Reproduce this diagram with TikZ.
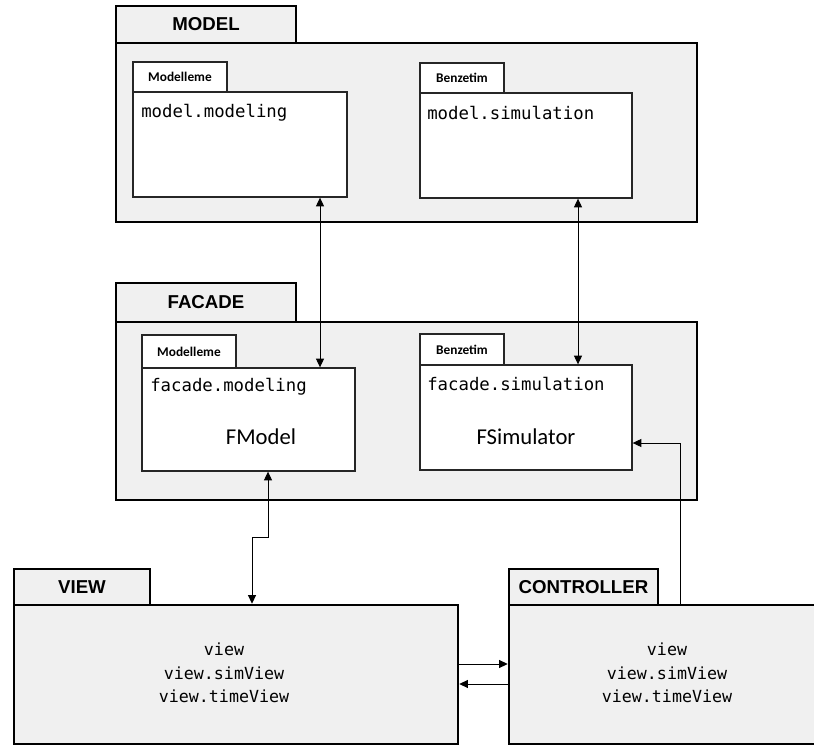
\documentclass[tikz,border=0pt]{standalone}
\usepackage{fontspec}
\setmainfont{Liberation Sans}
\setmonofont{DejaVu Sans Mono}
\newfontfamily\calfont{Carlito}
\usetikzlibrary{fit,arrows.meta}
\definecolor{pkggray}{RGB}{240,240,240}

\begin{document}
\begin{tikzpicture}[x=0.75pt,y=-0.75pt,
  pkg/.style={draw, line width=1.9pt, fill=pkggray, inner sep=0pt},
  pkgname/.style={font=\bfseries\fontsize{14}{16}\selectfont},
  sub/.style={draw=black!85, line width=1pt, fill=white, inner sep=0pt},
  subname/.style={font=\calfont\bfseries\fontsize{10}{12}\selectfont},
  code/.style={anchor=west, inner sep=0pt, font=\ttfamily\fontsize{13}{15}\selectfont},
  cls/.style={font=\calfont\fontsize{17}{20}\selectfont},
  listing/.style={align=center, font=\ttfamily\fontsize{12.5}{17.6}\selectfont},
  link/.style={line width=0.7pt, -{Triangle[length=6.5pt,width=6pt]}},
  bilink/.style={line width=0.7pt, {Triangle[length=6.5pt,width=6pt]}-{Triangle[length=6.5pt,width=6pt]}}]
\clip (0,0) rectangle (814,745);

% MODEL package
\node[pkg, fit={(116,6) (296,43)}] (modeltab) {};
\node[pkgname] (modellbl) at (modeltab.center) {MODEL};
\node[pkg, fit={(116,43) (697,222)}] (model) {};
\node[sub, fit={(133,62) (227,92)}] (mmtab) {};
\node[subname] (mmtablbl) at (mmtab.center) {Modelleme};
\node[sub, fit={(133,92) (347,197)}] (mm) {};
\node[code] (mmtxt) at (141,113) {model.modeling};
\node[sub, fit={(420,63) (504,93)}] (mstab) {};
\node[subname] (mstablbl) at (mstab.center) {Benzetim};
\node[sub, fit={(420,93) (632,198)}] (ms) {};
\node[code] (mstxt) at (427,113) {model.simulation};

% FACADE package
\node[pkg, fit={(116,283) (296,322)}] (facadetab) {};
\node[pkgname] (facadelbl) at (facadetab.center) {FACADE};
\node[pkg, fit={(116,322) (697,500)}] (facade) {};
\node[sub, fit={(142,335) (236,368)}] (fmtab) {};
\node[subname] (fmtablbl) at (fmtab.center) {Modelleme};
\node[sub, fit={(142,368) (355,471)}] (fm) {};
\node[code] (fmtxt) at (150,387) {facade.modeling};
\node[cls] (fmcls) at (261,437) {FModel};
\node[sub, fit={(420,334) (504,365)}] (fstab) {};
\node[subname] (fstablbl) at (fstab.center) {Benzetim};
\node[sub, fit={(420,365) (632,470)}] (fs) {};
\node[code] (fstxt) at (427,384) {facade.simulation};
\node[cls] (fscls) at (526,437) {FSimulator};

% VIEW package
\node[pkg, fit={(14,569) (150,605)}] (viewtab) {};
\node[pkgname] (viewlbl) at (viewtab.center) {VIEW};
\node[pkg, fit={(14,605) (458,744)}] (view) {};
\node[listing] (viewtxt) at (224,673) {view\\view.simView\\view.timeView};

% CONTROLLER package (runs past the right edge)
\node[pkg, fit={(509,569) (658,605)}] (ctrltab) {};
\node[pkgname] (ctrllbl) at (ctrltab.center) {CONTROLLER};
\node[pkg, fit={(509,605) (830,744)}] (ctrl) {};
\node[listing] (ctrltxt) at (667,673) {view\\view.simView\\view.timeView};

% dependencies
\draw[bilink] (320,0 |- mm.south) -- (320,0 |- fm.north);
\draw[bilink] (578,0 |- ms.south) -- (578,0 |- fs.north);
\coordinate (bendA) at (268,537);
\coordinate (bendB) at (252,537);
\draw[bilink] (268,0 |- fm.south) -- (bendA) -- (bendB) -- (252,0 |- view.north);
\draw[link] (680,0 |- ctrl.north) |- (fs.east |- 0,443);
\draw[link] (view.east |- 0,664) -- (ctrl.west |- 0,664);
\draw[link] (ctrl.west |- 0,684) -- (view.east |- 0,684);
\end{tikzpicture}
\end{document}
